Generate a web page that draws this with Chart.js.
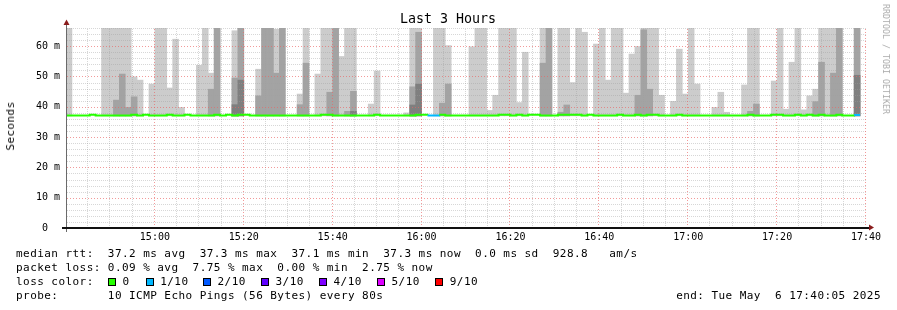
<!DOCTYPE html>
<html><head><meta charset="utf-8">
<script src="https://cdn.jsdelivr.net/npm/chart.js@4.4.1/dist/chart.umd.min.js"></script>
<style>
html,body{margin:0;padding:0;background:#fff;}
#wrap{position:relative;width:897px;height:310px;overflow:hidden;background:#fff;}
canvas{position:absolute;left:0;top:0;}
.t{position:absolute;white-space:pre;font-family:"DejaVu Sans Mono",monospace;color:#000;}
.lg{font-size:11px;letter-spacing:0.44px;line-height:14px;}
.box{position:absolute;width:6px;height:6px;border:1px solid #000;}
</style></head>
<body><div id="wrap"><canvas id="c" width="897" height="310"></canvas>
<div class="t" style="left:400px;top:11px;font-size:13.3px;line-height:16px;">Last 3 Hours</div>
<div class="t" style="left:11px;top:126px;font-size:11px;letter-spacing:0.4px;line-height:14px;transform:translate(-50%,-50%) rotate(-90deg);">Seconds</div>
<div class="t" style="left:886px;top:59px;font-size:8.3px;line-height:10px;color:#acacac;transform:translate(-50%,-50%) rotate(90deg);">RRDTOOL / TOBI OETIKER</div>
<div class="t lg" style="left:16px;top:247px;">median rtt:  37.2 ms avg  37.3 ms max  37.1 ms min  37.3 ms now  0.0 ms sd  928.8   am/s</div>
<div class="t lg" style="left:16px;top:261px;">packet loss: 0.09 % avg  7.75 % max  0.00 % min  2.75 % now</div>
<div class="t lg" style="left:16px;top:275px;">loss color:</div>
<div id="losslegend"></div>
<div class="t lg" style="left:16px;top:289px;">probe:       10 ICMP Echo Pings (56 Bytes) every 80s</div>
<div class="t lg" style="right:16px;top:289px;">end: Tue May  6 17:40:05 2025</div>
</div>
<script>
// ---- data (one value per 80 s step, 14:40 -> 17:40) ----
const stepMinutes = 80 / 60;
const smokeFloor = 37.0;
// highest ping of the 10 (lightest smoke)
const smokeMax = [
 68,null,null,null,null,null,68,68,68,68,
 68,49.9,48.8,null,47.5,68,68,46.2,62.3,39.8,
 null,null,53.7,68,51.1,68,null,null,65.1,68,
 null,null,52.4,68,68,65.6,68,null,null,44.2,
 68,null,50.8,68,68,68,56.6,68,68,null,
 null,40.9,51.8,null,null,null,null,38.0,68,68,
 null,null,68,68,60.2,null,null,null,59.8,68,
 68,38.8,43.8,68,68,68,41.4,58.0,null,null,
 68,68,null,68,68,48.0,68,64.6,null,60.7,
 68,48.8,68,68,44.5,57.4,59.9,68,68,68,
 43.8,null,41.8,59.0,44.2,68,47.5,null,null,39.8,
 44.8,38.2,null,null,47.2,68,68,null,null,48.5,
 68,39.2,54.7,68,39.0,43.6,45.8,68,68,68,
 68,null,null,68,null];
// second highest ping (medium smoke)
const smokePing9 = [
 null,null,null,null,null,null,null,null,42.2,50.8,
 39.8,43.3,null,null,null,null,null,null,null,null,
 null,null,null,null,45.8,68,null,null,49.5,68,
 null,null,43.6,68,68,51.1,68,null,null,40.7,
 54.4,null,null,null,44.8,68,null,38.5,45.1,null,
 null,null,null,null,null,null,null,null,46.6,64.6,
 null,null,null,41.2,47.5,null,null,null,null,null,
 null,null,null,null,null,null,null,null,null,null,
 54.4,68,null,38.2,40.6,null,null,null,null,null,
 null,null,null,null,null,null,43.8,65.4,45.8,null,
 null,null,null,null,null,null,null,null,null,null,
 null,null,null,null,null,38.5,40.9,null,null,null,
 null,null,null,null,null,null,41.7,54.7,null,51.1,
 68,null,null,68,null];
// third highest ping (dark smoke)
const smokePing8 = [
 null,null,null,null,null,null,null,null,null,null,
 null,null,null,null,null,null,null,null,null,null,
 null,null,null,null,null,null,null,null,40.7,48.8,
 null,null,null,null,null,null,null,null,null,null,
 null,null,null,null,null,null,null,null,38.5,null,
 null,null,null,null,null,null,null,null,40.6,47.5,
 null,null,null,null,null,null,null,null,null,null,
 null,null,null,null,null,null,null,null,null,null,
 null,null,null,null,null,null,null,null,null,null,
 null,null,null,null,null,null,null,null,null,null,
 null,null,null,null,null,null,null,null,null,null,
 null,null,null,null,null,null,null,null,null,null,
 null,null,null,null,null,null,null,null,null,null,
 null,null,null,50.4,null];
const medianRtt = [
 37.1,37.1,37.1,37.1,37.4,37.1,37.1,37.1,37.1,37.1,
 37.1,37.4,37.1,37.4,37.1,37.1,37.1,37.4,37.1,37.1,
 37.4,37.1,37.1,37.1,37.1,37.4,37.1,37.4,37.1,37.4,
 37.4,37.1,37.1,37.1,37.1,37.1,37.1,37.1,37.1,37.1,
 37.1,37.1,37.1,37.4,37.4,37.1,37.1,37.1,37.1,37.1,
 37.1,37.1,37.4,37.1,37.1,37.1,37.1,37.1,37.1,37.4,
 37.4,37.1,37.1,37.4,37.1,37.1,37.1,37.1,37.1,37.1,
 37.1,37.1,37.1,37.4,37.4,37.1,37.4,37.1,37.4,37.4,
 37.1,37.1,37.1,37.4,37.4,37.4,37.4,37.1,37.4,37.1,
 37.1,37.1,37.1,37.4,37.1,37.1,37.4,37.1,37.4,37.4,
 37.1,37.1,37.1,37.4,37.1,37.1,37.1,37.1,37.1,37.1,
 37.1,37.1,37.1,37.1,37.1,37.4,37.1,37.1,37.1,37.4,
 37.4,37.1,37.1,37.4,37.1,37.4,37.1,37.4,37.1,37.1,
 37.4,37.1,37.1,37.3,null];
// lost pings out of 10
const lossTenths = [
 0,0,0,0,0,0,0,0,0,0, 0,0,0,0,0,0,0,0,0,0,
 0,0,0,0,0,0,0,0,0,0, 0,0,0,0,0,0,0,0,0,0,
 0,0,0,0,0,0,0,0,0,0, 0,0,0,0,0,0,0,0,0,0,
 0,1,1,0,0,0,0,0,0,0, 0,0,0,0,0,0,0,0,0,0,
 0,0,0,0,0,0,0,0,0,0, 0,0,0,0,0,0,0,0,0,0,
 0,0,0,0,0,0,0,0,0,0, 0,0,0,0,0,0,0,0,0,0,
 0,0,0,0,0,0,0,0,0,0, 0,0,0,1,null];
const xTickLabels = ['', '15:00', '15:20', '15:40', '16:00', '16:20', '16:40', '17:00', '17:20', '17:40'];
const lossLabels = ['0', '1/10', '2/10', '3/10', '4/10', '5/10', '9/10'];
const lossKeys = [0, 1, 2, 3, 4, 5, 9];
const lossColorList = ['#26ff00', '#00b8ff', '#0059ff', '#5e00ff', '#7e00ff', '#dd00ff', '#ff0000'];

// ---- build ----
const lossColor = {};
lossKeys.forEach((k, i) => lossColor[k] = lossColorList[i]);

const legendBoxX = [108, 145.7, 203, 261, 319, 377, 435.3];
const ll = document.getElementById('losslegend');
lossLabels.forEach((lab, i) => {
  const b = document.createElement('div');
  b.className = 'box';
  b.style.left = legendBoxX[i] + 'px'; b.style.top = '278px';
  b.style.background = lossColorList[i];
  ll.appendChild(b);
  const t = document.createElement('div');
  t.className = 't lg';
  t.style.left = (legendBoxX[i] + 14.5) + 'px'; t.style.top = '275px';
  t.textContent = lab;
  ll.appendChild(t);
});

const bars = arr => arr.map((v, k) => ({x: (k + 0.5) * stepMinutes, y: v == null ? null : [smokeFloor, v]}));
const medianPts = [];
medianRtt.forEach((v, k) => { if (v != null) medianPts.push({x: k * stepMinutes, y: v}); });
const lastIdx = medianPts.length - 1;
medianPts.push({x: (lastIdx + 1) * stepMinutes, y: medianPts[lastIdx].y});

const gridPlugin = {
  id: 'rrdgrid',
  beforeDatasetDraw(chart, args) {
    if (args.index !== 0) return;
    const {ctx, chartArea: a, scales: {x, y}} = chart;
    ctx.save();
    ctx.lineWidth = 1;
    const hline = (v, col) => { const p = Math.round(y.getPixelForValue(v)) + 0.5; ctx.strokeStyle = col; ctx.beginPath(); ctx.moveTo(a.left + 1, p); ctx.lineTo(a.right + 1, p); ctx.stroke(); };
    const vline = (v, col) => { const p = Math.round(x.getPixelForValue(v)) - 0.5; ctx.strokeStyle = col; ctx.beginPath(); ctx.moveTo(p, a.bottom); ctx.lineTo(p, a.top); ctx.stroke(); };
    ctx.setLineDash([1, 1]);
    for (let v = 2; v <= y.max; v += 2) if (v % 10 !== 0) hline(v, 'rgba(160,160,160,0.42)');
    for (let m = 5; m <= x.max; m += 5) if (m % 20 !== 0) vline(m, 'rgba(160,160,160,0.42)');
    ctx.setLineDash([1, 2]);
    for (let v = 10; v <= y.max; v += 10) hline(v, 'rgba(235,100,100,0.65)');
    for (let m = 20; m <= x.max; m += 20) vline(m, 'rgba(235,100,100,0.65)');
    ctx.restore();
  },
  afterDraw(chart) {
    const {ctx, chartArea: a} = chart;
    ctx.save();
    ctx.fillStyle = '#6a6a6a';
    ctx.fillRect(a.left, a.top - 3, 1, a.bottom - a.top + 7);
    ctx.fillStyle = '#111';
    ctx.fillRect(a.left - 4, a.bottom - 1, a.right - a.left + 8, 2);
    ctx.fillStyle = '#8a1c1c';
    ctx.beginPath(); ctx.moveTo(a.left - 2.5, a.top - 3); ctx.lineTo(a.left + 3.5, a.top - 3); ctx.lineTo(a.left + 0.5, a.top - 8.5); ctx.closePath(); ctx.fill();
    ctx.beginPath(); ctx.moveTo(a.right + 3, a.bottom - 3.5); ctx.lineTo(a.right + 3, a.bottom + 2.5); ctx.lineTo(a.right + 8, a.bottom - 0.5); ctx.closePath(); ctx.fill();
    ctx.restore();
  }
};

const barOpts = {grouped: false, barPercentage: 1, categoryPercentage: 1, borderWidth: 0};
const monoFont = {family: 'DejaVu Sans Mono', size: 10};
new Chart(document.getElementById('c'), {
  type: 'bar',
  data: {datasets: [
    {type: 'line', label: 'median rtt', data: medianPts, order: 0, stepped: 'before', borderWidth: 2,
     borderColor: lossColor[0], pointRadius: 0, borderCapStyle: 'butt',
     segment: {borderColor: c => lossColor[lossTenths[c.p0DataIndex]] || lossColor[0]}},
    Object.assign({label: 'ping 8', data: bars(smokePing8), backgroundColor: '#7f7f7f', order: 1}, barOpts),
    Object.assign({label: 'ping 9', data: bars(smokePing9), backgroundColor: '#a3a3a3', order: 2}, barOpts),
    Object.assign({label: 'ping 10', data: bars(smokeMax), backgroundColor: '#cccccc', order: 3}, barOpts)
  ]},
  options: {
    responsive: false, animation: false, devicePixelRatio: 1,
    layout: {padding: {left: 0, right: 31, top: 28, bottom: 0}},
    plugins: {legend: {display: false}, tooltip: {enabled: false}},
    scales: {
      x: {type: 'linear', min: 0, max: 180, offset: false,
          grid: {display: false, drawTicks: false}, border: {display: false},
          ticks: {stepSize: 20, autoSkip: false, maxRotation: 0, padding: 3, color: '#000', font: monoFont,
                  callback: v => xTickLabels[Math.round(v / 20)] || ''},
          afterFit: s => { s.height = 82; }},
      y: {min: 0, max: 66,
          grid: {display: false, drawTicks: false}, border: {display: false},
          ticks: {stepSize: 2, autoSkip: false, padding: 6, color: '#000', font: monoFont,
                  callback: v => (v % 10 === 0) ? (v === 0 ? '0  ' : v + ' m') : ''},
          afterFit: s => { s.width = 66; }}
    }
  },
  plugins: [gridPlugin]
});
</script>
</body></html>
